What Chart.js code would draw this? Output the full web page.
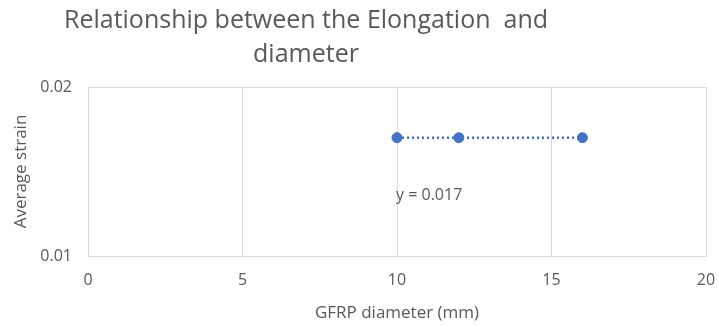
<!DOCTYPE html>
<html>
<head>
<meta charset="utf-8">
<script src="https://cdn.jsdelivr.net/npm/chart.js@4.4.0/dist/chart.umd.min.js"></script>
<style>
  html, body { margin: 0; padding: 0; background: #fff; }
  #wrap { width: 719px; height: 327px; position: relative; }
</style>
</head>
<body>
<div id="wrap"><canvas id="chart"></canvas></div>
<script>
// data
const diameters = [10, 12, 16];
const strains = [0.017, 0.017, 0.017];
const xTicks = [0, 5, 10, 15, 20];
const yTicks = [0.01, 0.02];
const titleLines = ["Relationship between the Elongation  and", "diameter"];

const grey = "#595959";
const blue = "#4472C4";
const fontFam = "'Open Sans', 'Noto Sans', sans-serif";

// linear trendline from the points
const n = diameters.length;
const mx = diameters.reduce((a, b) => a + b, 0) / n;
const my = strains.reduce((a, b) => a + b, 0) / n;
let sxy = 0, sxx = 0;
for (let i = 0; i < n; i++) {
  sxy += (diameters[i] - mx) * (strains[i] - my);
  sxx += (diameters[i] - mx) * (diameters[i] - mx);
}
const slope = sxx ? sxy / sxx : 0;
const intercept = my - slope * mx;
const xMin = Math.min(...diameters), xMax = Math.max(...diameters);
const trend = [
  { x: xMin, y: intercept + slope * xMin },
  { x: xMax, y: intercept + slope * xMax },
];

//title and trendline label
const textPlugin = {
  id: "texts",
  afterDraw(chart) {
    const ctx = chart.ctx;
    const xs = chart.scales.x, ys = chart.scales.y;
    ctx.save();
    ctx.fillStyle = grey;
    ctx.textAlign = "center";
    ctx.textBaseline = "alphabetic";
    ctx.font = "25px " + fontFam;
    ctx.fillText(titleLines[0], 306, 28);
    ctx.fillText(titleLines[1], 306, 62);
    ctx.textAlign = "left";
    ctx.textBaseline = "middle";
    ctx.font = "16px " + fontFam;
    ctx.fillText("y = " + intercept.toFixed(3), xs.getPixelForValue(xMin) - 1, ys.getPixelForValue(0.0136));
    ctx.restore();
  },
};

new Chart(document.getElementById("chart"), {
  type: "scatter",
  plugins: [textPlugin],
  data: {
    datasets: [
      {
        data: diameters.map((d, i) => ({ x: d, y: strains[i] })),
        backgroundColor: blue,
        borderColor: blue,
        pointRadius: 5,
        pointHoverRadius: 5,
        showLine: false,
        order: 1,
      },
      {
        data: trend,
        showLine: true,
        borderColor: blue,
        borderWidth: 2.5,
        borderDash: [2, 3],
        pointRadius: 0,
        order: 2,
      },
    ],
  },
  options: {
    responsive: true,
    maintainAspectRatio: false,
    animation: false,
    layout: { padding: { top: 87, right: 13, left: 0, bottom: 0 } },
    plugins: { legend: { display: false }, tooltip: { enabled: false } },
    scales: {
      x: {
        type: "linear",
        min: xTicks[0],
        max: xTicks[xTicks.length - 1],
        afterBuildTicks: (s) => { s.ticks = xTicks.map((v) => ({ value: v })); },
        afterFit: (s) => { s.height = 71; s.paddingLeft = 0; s.paddingRight = 0; },
        grid: { color: "#d9d9d9", lineWidth: 1, drawTicks: false },
        border: { color: "#d9d9d9" },
        ticks: { color: grey, font: { family: fontFam, size: 16 }, padding: 15 },
        title: {
          display: true,
          text: "GFRP diameter (mm)",
          color: grey,
          font: { family: fontFam, size: 17 },
          padding: { top: 0, bottom: 4 },
        },
      },
      y: {
        type: "linear",
        min: yTicks[0],
        max: yTicks[yTicks.length - 1],
        afterBuildTicks: (s) => { s.ticks = yTicks.map((v) => ({ value: v })); },
        afterFit: (s) => { s.width = 88; s.paddingTop = 0; s.paddingBottom = 0; },
        grid: { color: "#d9d9d9", lineWidth: 1, drawTicks: false },
        border: { color: "#d9d9d9" },
        ticks: {
          color: grey,
          font: { family: fontFam, size: 16 },
          padding: 16,
          callback: (v) => v.toFixed(2),
        },
        title: {
          display: true,
          text: "Average strain",
          color: grey,
          font: { family: fontFam, size: 17 },
          padding: { top: 11, bottom: 0 },
        },
      },
    },
  },
});
</script>
</body>
</html>
